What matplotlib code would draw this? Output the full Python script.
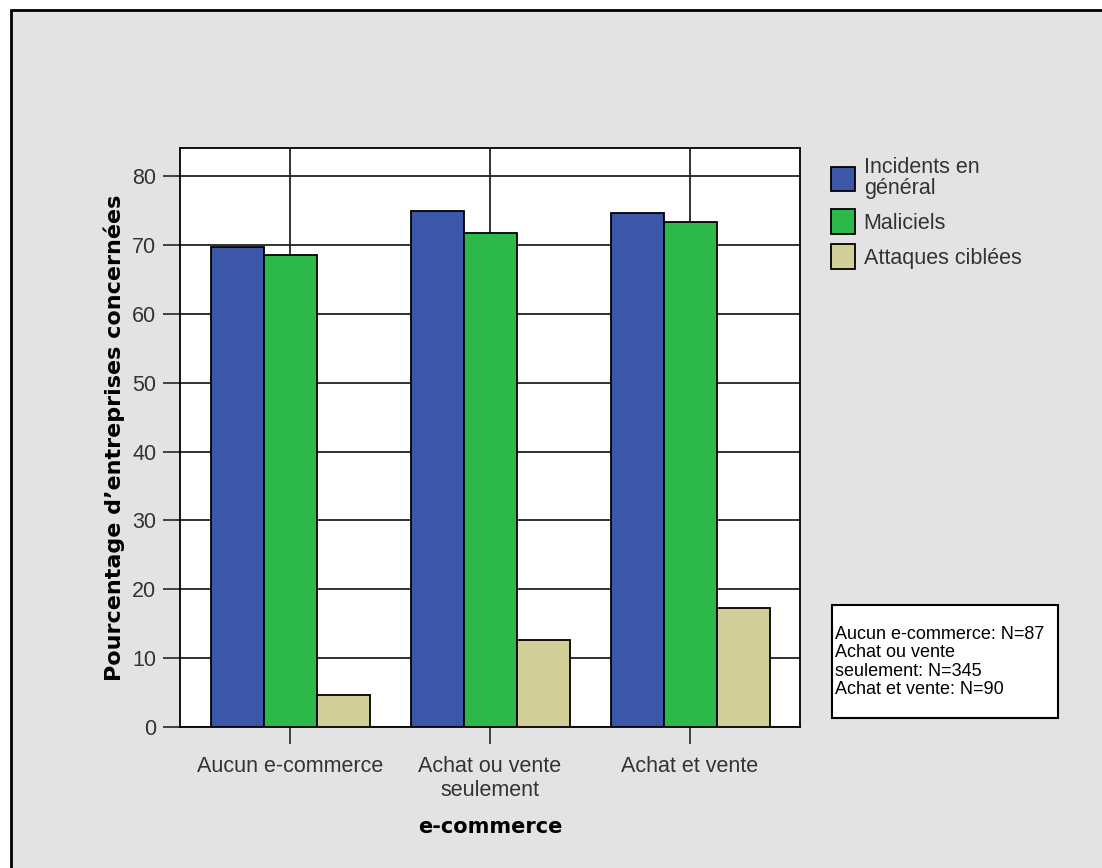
import numpy as np
import matplotlib.pyplot as plt
from matplotlib.patches import Rectangle

# ── Data ──────────────────────────────────────────────────────────────────────
categories = ['Aucun e-commerce', 'Achat ou vente\nseulement', 'Achat et vente']
series_names = ['Incidents en\ngénéral', 'Maliciels', 'Attaques ciblées']
incidents = [69.7, 74.9, 74.6]
maliciels = [68.5, 71.7, 73.4]
attaques = [4.6, 12.6, 17.3]
note_lines = ['Aucun e-commerce: N=87', 'Achat ou vente', 'seulement: N=345',
              'Achat et vente: N=90']

colors = ['#3d57a8', '#2db84a', '#d3cf98']
bg = '#e3e3e3'

# ── Figure ────────────────────────────────────────────────────────────────────
W, H = 1102, 868
fig = plt.figure(figsize=(W / 100, H / 100), dpi=100, facecolor='white')

# grey panel with black border on top/left (cropped screenshot look)
fig.patches.append(Rectangle((11 / W, -0.05), 1.1, 1 - 10 / H + 0.05,
                             transform=fig.transFigure, facecolor=bg,
                             edgecolor='black', linewidth=2, zorder=-5))

ax = fig.add_axes([180 / W, 1 - 727 / H, 620 / W, (727 - 148) / H])
ax.set_facecolor('white')

x = np.arange(len(categories))
width = 0.265
for i, (vals, name) in enumerate(zip([incidents, maliciels, attaques], series_names)):
    ax.bar(x + (i - 1) * width, vals, width, color=colors[i], edgecolor='black',
           linewidth=1.3, label=name, zorder=3)

ax.set_xlim(-0.55, 2.55)
ax.set_ylim(0, 84.1)
ax.set_yticks(range(0, 81, 10))
ax.set_xticks(x)
ax.set_xticklabels(categories, fontsize=15.5, color='#333333', family='Liberation Sans',
                   linespacing=1.15)
for lbl in ax.get_yticklabels():
    lbl.set_fontsize(15.5)
    lbl.set_color('#333333')
    lbl.set_family('Liberation Sans')

ax.tick_params(axis='both', length=12, width=1.3, color='#333333')
ax.tick_params(axis='x', pad=9)
ax.tick_params(axis='y', pad=5)
ax.grid(True, color='#222222', linewidth=1.3, zorder=1)
ax.set_axisbelow(True)
for s in ax.spines.values():
    s.set_color('black')
    s.set_linewidth(1.3)

ax.set_ylabel("Pourcentage d’entreprises concernées", fontsize=16, fontweight='bold',
              labelpad=5)
ax.set_xlabel('e-commerce', fontsize=15, fontweight='bold', labelpad=12)

leg = fig.legend(loc='upper left', bbox_to_anchor=(812 / W, 1 - 138 / H),
                 frameon=False, handlelength=1.1, handleheight=1.35,
                 handletextpad=0.4, labelspacing=0.5, labelcolor='#333333',
                 prop={'family': 'Liberation Sans', 'size': 15.5})
for t in leg.get_texts():
    t.set_linespacing(0.95)

# note box
fig.patches.append(Rectangle((832 / W, 1 - 718 / H), (1058 - 832) / W, (718 - 605) / H,
                             transform=fig.transFigure, facecolor='white',
                             edgecolor='black', linewidth=1.5, zorder=2))
fig.text(835 / W, 1 - 626 / H, '\n'.join(note_lines), ha='left', va='top',
         fontsize=13, family='Liberation Sans', linespacing=1.1, zorder=3)

fig.savefig('out.png', dpi=100, facecolor=fig.get_facecolor())
